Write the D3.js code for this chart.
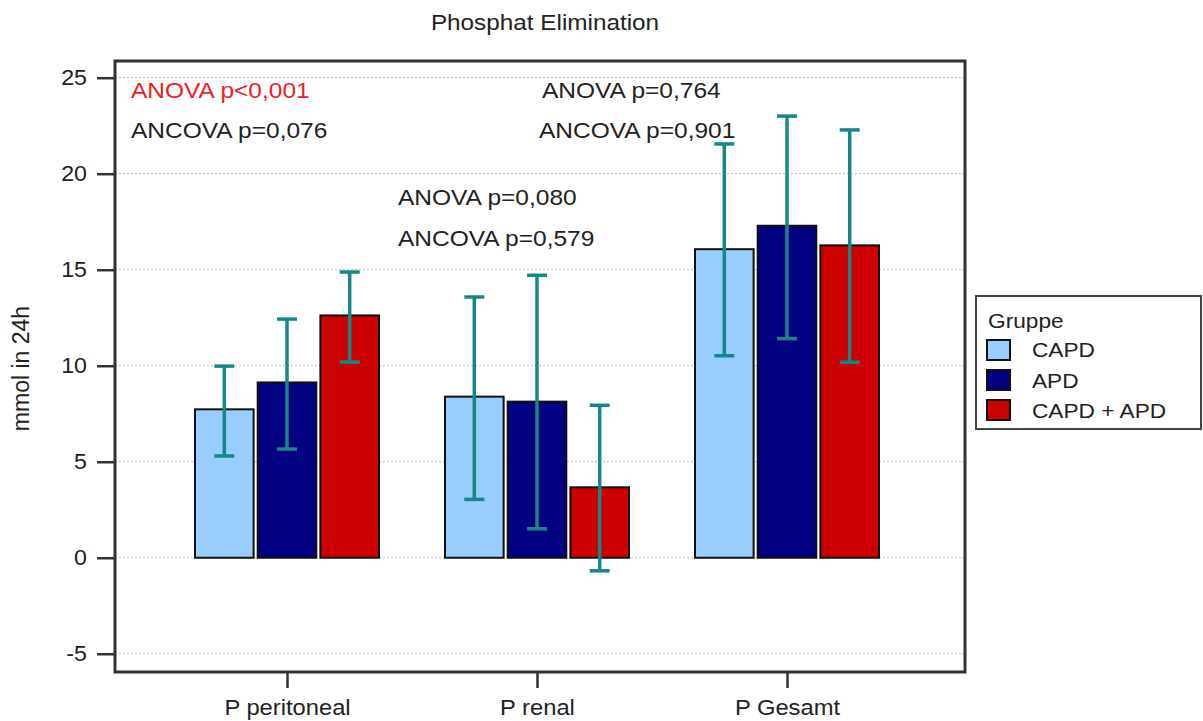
<!DOCTYPE html>
<html>
<head>
<meta charset="utf-8">
<script src="https://cdn.jsdelivr.net/npm/d3@7"></script>
<style>
  html, body { margin: 0; padding: 0; background: #fff; }
  svg { display: block; font-family: "Liberation Sans", Arial, sans-serif; }
</style>
</head>
<body>
<svg id="chart" width="1203" height="721"></svg>
<script>
// ---------- data ----------
const categories = ["P peritoneal", "P renal", "P Gesamt"];
const seriesNames = ["CAPD", "APD", "CAPD + APD"];
const seriesColors = ["#99ccff", "#000080", "#cc0000"];
// mean values per series for each category
const meanCAPD    = [7.73, 8.39, 16.07];
const meanAPD     = [9.13, 8.13, 17.29];
const meanCombined = [12.62, 3.67, 16.27];
// error bar ends
const lowCAPD     = [5.30, 3.04, 10.52];
const highCAPD    = [9.98, 13.58, 21.55];
const lowAPD      = [5.66, 1.51, 11.41];
const highAPD     = [12.43, 14.71, 23.00];
const lowCombined = [10.19, -0.68, 10.18];
const highCombined = [14.88, 7.94, 22.28];
const yTicks = [-5, 0, 5, 10, 15, 20, 25];
const yTickLabels = ["-5", "0", "5", "10", "15", "20", "25"];
const titleText = "Phosphat Elimination";
const yLabelText = "mmol in 24h";
const legendTitle = "Gruppe";
const annotationTexts = ["ANOVA p<0,001", "ANCOVA p=0,076", "ANOVA p=0,764", "ANCOVA p=0,901", "ANOVA p=0,080", "ANCOVA p=0,579"];

// ---------- layout ----------
const svg = d3.select("#chart");
const frame = { left: 115, right: 965, top: 61, bottom: 672 };
const SX = 1.08; // horizontal text stretch

const means = [meanCAPD, meanAPD, meanCombined];
const lows = [lowCAPD, lowAPD, lowCombined];
const highs = [highCAPD, highAPD, highCombined];

const rows = [];
categories.forEach((c, ci) => {
  seriesNames.forEach((s, si) => {
    rows.push({ cat: c, series: s, si, value: means[si][ci], low: lows[si][ci], high: highs[si][ci] });
  });
});

const y = d3.scaleLinear().domain([-5.95, 25.87]).range([frame.bottom, frame.top]);
const x = d3.scalePoint().domain(categories).range([112, 962]).padding(0.7);
const xs = d3.scaleBand().domain(seriesNames).range([-92, 92]).paddingInner(0.065);

function stretchedText(sel, px, py) {
  return sel.attr("transform", `translate(${px},${py}) scale(${SX},1)`);
}

// gridlines
svg.append("g").selectAll("line").data(yTicks).join("line")
  .attr("x1", frame.left).attr("x2", frame.right)
  .attr("y1", d => y(d)).attr("y2", d => y(d))
  .attr("stroke", "#b8b8b8").attr("stroke-width", 1)
  .attr("stroke-dasharray", "2,2");

// bars
svg.append("g").selectAll("rect").data(rows).join("rect")
  .attr("x", d => x(d.cat) + xs(d.series))
  .attr("width", xs.bandwidth())
  .attr("y", d => y(Math.max(0, d.value)))
  .attr("height", d => Math.abs(y(d.value) - y(0)))
  .attr("fill", d => seriesColors[d.si])
  .attr("stroke", "#111").attr("stroke-width", 2);

// error bars
const eb = svg.append("g").attr("stroke", "#168787").attr("stroke-width", 3.5);
const cap = 10;
rows.forEach(d => {
  const cx = x(d.cat) + xs(d.series) + xs.bandwidth() / 2;
  eb.append("line").attr("x1", cx).attr("x2", cx).attr("y1", y(d.low)).attr("y2", y(d.high));
  eb.append("line").attr("x1", cx - cap).attr("x2", cx + cap).attr("y1", y(d.low)).attr("y2", y(d.low));
  eb.append("line").attr("x1", cx - cap).attr("x2", cx + cap).attr("y1", y(d.high)).attr("y2", y(d.high));
});

// frame
svg.append("rect")
  .attr("x", frame.left).attr("y", frame.top)
  .attr("width", frame.right - frame.left).attr("height", frame.bottom - frame.top)
  .attr("fill", "none").attr("stroke", "#333").attr("stroke-width", 3);

// y axis
const yAxis = svg.append("g").attr("transform", `translate(${frame.left},0)`)
  .call(d3.axisLeft(y).tickValues(yTicks).tickSize(18).tickPadding(10)
    .tickFormat((d, i) => yTickLabels[i]));
yAxis.select(".domain").remove();
yAxis.selectAll(".tick line").attr("stroke", "#333").attr("stroke-width", 2.5);
yAxis.selectAll(".tick text")
  .attr("font-size", 21.5).attr("fill", "#222").attr("font-family", "Liberation Sans, Arial, sans-serif")
  .attr("transform", `scale(${SX},1)`)
  .attr("x", -28 / SX);

// x axis
const xAxis = svg.append("g").attr("transform", `translate(0,${frame.bottom})`)
  .call(d3.axisBottom(x).tickSize(16).tickPadding(0));
xAxis.select(".domain").remove();
xAxis.selectAll(".tick line").attr("stroke", "#333").attr("stroke-width", 2.5);
xAxis.selectAll(".tick text")
  .attr("font-size", 22).attr("fill", "#222").attr("font-family", "Liberation Sans, Arial, sans-serif")
  .attr("y", 0).attr("dy", 0)
  .attr("transform", `translate(0,43) scale(${SX},1)`);

// title
stretchedText(svg.append("text"), 545, 30)
  .attr("text-anchor", "middle").attr("font-size", 22.5).attr("fill", "#222").text(titleText);

// y label
svg.append("text")
  .attr("transform", `translate(29,${(frame.top + frame.bottom) / 2 + 2}) rotate(-90)`)
  .attr("text-anchor", "middle").attr("font-size", 23).attr("fill", "#222").text(yLabelText);

// annotations
const annotationPos = [[131, 98], [131, 138], [542, 98], [539, 138], [398, 205], [398, 246]];
const annotationColors = ["#ee1c24", "#222", "#222", "#222", "#222", "#222"];
annotationTexts.forEach((t, i) => {
  stretchedText(svg.append("text"), annotationPos[i][0], annotationPos[i][1])
    .attr("font-size", 22.7).attr("fill", annotationColors[i]).text(t);
});

// legend
const lg = svg.append("g");
lg.append("rect").attr("x", 976).attr("y", 296).attr("width", 225).attr("height", 133)
  .attr("fill", "#fff").attr("stroke", "#444").attr("stroke-width", 2);
stretchedText(lg.append("text"), 988, 328).attr("font-size", 21).attr("fill", "#222").text(legendTitle);
seriesNames.forEach((s, i) => {
  lg.append("rect").attr("x", 987).attr("y", 340 + i * 30).attr("width", 23).attr("height", 20)
    .attr("fill", seriesColors[i]).attr("stroke", "#111").attr("stroke-width", 2);
  stretchedText(lg.append("text"), 1032, 357 + i * 30.5).attr("font-size", 21).attr("fill", "#222").text(s);
});
</script>
</body>
</html>
